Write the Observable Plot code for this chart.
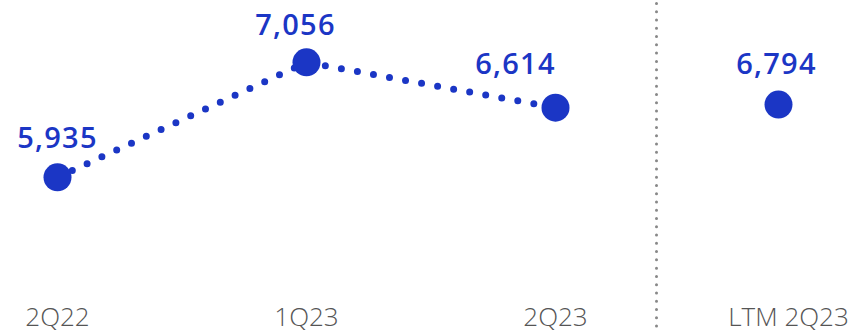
<!DOCTYPE html>
<html>
<head>
<meta charset="utf-8">
<script src="https://cdn.jsdelivr.net/npm/d3@7"></script>
<script src="https://cdn.jsdelivr.net/npm/@observablehq/plot@0.6"></script>
<style>
  html, body { margin: 0; padding: 0; background: #fff; }
  #wrap { display: flex; width: 856px; height: 332px; }
  g.value-label text { letter-spacing: 1.3px; }
</style>
</head>
<body>
<div id="wrap"></div>
<script>
// Data
const quarters = ["2Q22", "1Q23", "2Q23"];
const quarterValues = [5935, 7056, 6614];
const ltmLabel = ["LTM 2Q23"];
const ltmValues = [6794];

const BLUE = "#1b36c5";
const GRAY_TEXT = "#555555";
const FONT = "'Open Sans', 'Noto Sans', sans-serif";

const qData = quarters.map((q, i) => ({q, v: quarterValues[i]}));
const lData = ltmLabel.map((q, i) => ({q, v: ltmValues[i]}));

const fmt = d3.format(",");

// label offsets (layout only)
const labelOffsets = {
  "2Q22": [0, -29],
  "1Q23": [-11, -27],
  "2Q23": [-40, -34],
  "LTM 2Q23": [-2, -31]
};

function valueLabels(data) {
  return data.map(d => Plot.text([d], {
    x: "q", y: "v", text: d => fmt(d.v),
    dx: labelOffsets[d.q][0], dy: labelOffsets[d.q][1],
    lineAnchor: "bottom", textAnchor: "middle",
    fill: BLUE, fontSize: 29, fontWeight: 600, className: "value-label"
  }));
}

function tickLabels(data, dx = 0) {
  return Plot.text(data, {
    x: "q", text: "q", frameAnchor: "bottom", lineAnchor: "bottom",
    dy: -1, dx, textAnchor: "middle",
    fill: GRAY_TEXT, fontSize: 26, fontWeight: 300
  });
}

const left = Plot.plot({
  width: 654, height: 332,
  marginLeft: 57, marginRight: 99, marginTop: 3, marginBottom: 6,
  style: {fontFamily: FONT, background: "white", overflow: "visible"},
  x: {type: "point", domain: quarters, padding: 0, axis: null},
  y: {domain: [4480, 7630], axis: null},
  marks: [
    Plot.line(qData, {x: "q", y: "v", stroke: BLUE, strokeWidth: 7,
      strokeDasharray: "0 16.3", strokeLinecap: "round"}),
    Plot.dot(qData, {x: "q", y: "v", r: 14, fill: BLUE, stroke: null}),
    ...valueLabels(qData),
    tickLabels(qData)
  ]
});

const right = Plot.plot({
  width: 202, height: 332,
  marginLeft: 2, marginRight: 0, marginTop: 3, marginBottom: 6,
  style: {fontFamily: FONT, background: "white", overflow: "visible"},
  x: {type: "point", domain: ltmLabel, padding: 0, align: 0.61, axis: null},
  y: {domain: [4630, 7780], axis: null},
  marks: [
    Plot.frame({anchor: "left", stroke: "#888888", strokeWidth: 3,
      strokeDasharray: "0 8.27", strokeLinecap: "round"}),
    Plot.dot(lData, {x: "q", y: "v", r: 14, fill: BLUE, stroke: null}),
    ...valueLabels(lData),
    tickLabels(lData, 10)
  ]
});

document.getElementById("wrap").append(left, right);
</script>
</body>
</html>
